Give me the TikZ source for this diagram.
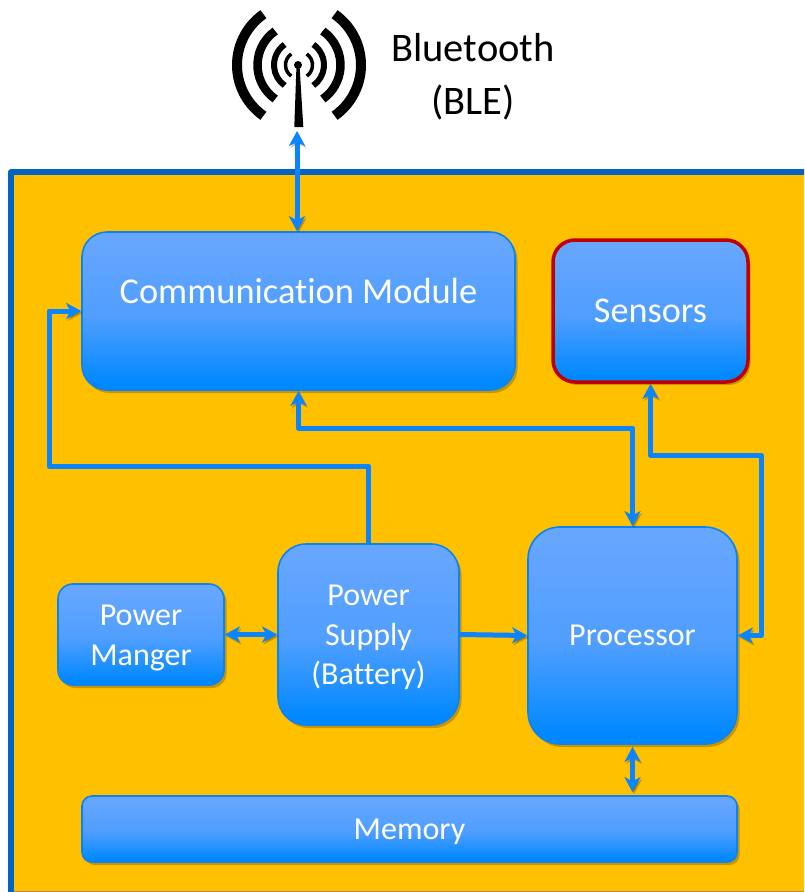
\documentclass[tikz,border=0pt]{standalone}
\usepackage{fontspec}
\setmainfont[Ligatures=NoCommon]{Carlito}
\usetikzlibrary{arrows.meta,shadows,calc}
\definecolor{boxtop}{HTML}{66A6FF}
\definecolor{boxmid}{HTML}{4F9EFF}
\definecolor{boxbot}{HTML}{0088FF}
\definecolor{edgeblue}{HTML}{0A84F5}
\definecolor{wireblue}{HTML}{0A84FF}
\definecolor{frameblue}{HTML}{0563C1}
\definecolor{panel}{HTML}{FFC000}
\definecolor{sensred}{HTML}{C00000}
\pgfdeclareverticalshading{boxgrad}{100bp}{color(0bp)=(boxbot); color(27bp)=(boxbot); color(48bp)=(boxmid); color(72bp)=(boxtop); color(100bp)=(boxtop)}
\tikzset{
  >={Stealth[length=15pt,width=16pt,inset=4pt]},
  bx/.style={draw=edgeblue,line width=1.6pt,shading=boxgrad,inner sep=0pt,
    general shadow={shadow xshift=2.5pt,shadow yshift=-3pt,fill=black,opacity=.22}},
  lbl/.style={inner sep=0pt,align=center,text=white,font=\fontsize{#1}{39.5}\selectfont},
  wire/.style={draw=wireblue,line width=5pt,line join=round,
    preaction={draw=black,opacity=.2,transform canvas={shift={(1.5pt,-2pt)}}}},
  wave/.style={draw=black,line cap=butt},
}
\begin{document}
\begin{tikzpicture}[x=1pt,y=-1pt]
\useasboundingbox (0,0) rectangle (804,892);
\clip (0,0) rectangle (804,892);
\fill[white] (0,0) rectangle (804,892);
% panel
\draw[frameblue,line width=5.5pt,fill=panel,line join=round] (11.2,172) rectangle (830,920);
\draw[gray!70!panel,line width=1pt] (14,891.5) -- (804,891.5);
% antenna
\coordinate (ant) at (299,65);
\coordinate (antbase) at (297,131);
\foreach \r/\w in {62/10,41.5/8.5,25/6,13.5/3.5}{
  \draw[wave,line width=\w pt] ([shift={(125:\r pt)}]ant) arc[start angle=125,end angle=235,radius=\r pt];
  \draw[wave,line width=\w pt] ([shift={(55:\r pt)}]ant) arc[start angle=55,end angle=-55,radius=\r pt];
}
\fill[black] (298,65) circle[radius=4pt];
\fill[black] (296.5,65) -- (299.5,65) -- (303.3,127) -- (294.3,127) -- cycle;
\node[font=\fontsize{40.5}{53}\selectfont,align=center,text=black,inner sep=0pt] (ble) at (473,76.5) {Bluetooth\\(BLE)};
% boxes
\node[bx,rounded corners=25pt,minimum width=433pt,minimum height=158pt] (comm) at (298.5,311) {};
\node[lbl=36.4] (commtxt) at (298.5,291) {Communication Module};
\node[bx,draw=sensred,line width=3.5pt,rounded corners=22pt,minimum width=195pt,minimum height=142pt] (sens) at (650.5,311) {};
\node[lbl=36.2] (senstxt) at (650.5,311) {Sensors};
\node[bx,rounded corners=32pt,minimum width=209pt,minimum height=217pt] (proc) at (632.5,635.5) {};
\node[lbl=32] (proctxt) at (632.5,635.5) {Processor};
\node[bx,rounded corners=28pt,minimum width=181pt,minimum height=181pt] (psu) at (368.5,634.5) {};
\node[lbl=32] (psutxt) at (368.5,637.5) {Power\\Supply\\(Battery)};
\node[bx,rounded corners=15pt,minimum width=166pt,minimum height=101pt] (pm) at (141,634.5) {};
\node[lbl=32] (pmtxt) at (141,638) {Power\\Manger};
\node[bx,rounded corners=10pt,minimum width=655pt,minimum height=66pt] (mem) at (409.5,829) {};
\node[lbl=32] (memtxt) at (409.5,832) {Memory};
% connectors
\coordinate (w1) at (49,466);
\coordinate (c2) at (632.5,428);
\coordinate (s1) at (761,455);
\draw[wire,<->] (antbase) -- (antbase |- comm.north);
\draw[wire,->] (psu.north) |- (w1) |- (comm.west);
\draw[wire,<->] (comm.south) |- (c2) -- (proc.north);
\draw[wire,<->] (sens.south) |- (s1) |- (proc.east);
\draw[wire,<->] (pm.east) -- (psu.west);
\draw[wire,->] (psu.east) -- (proc.west);
\draw[wire,<->,shorten <=2pt,shorten >=3pt] (proc.south) -- (proc.south |- mem.north);
\end{tikzpicture}
\end{document}
